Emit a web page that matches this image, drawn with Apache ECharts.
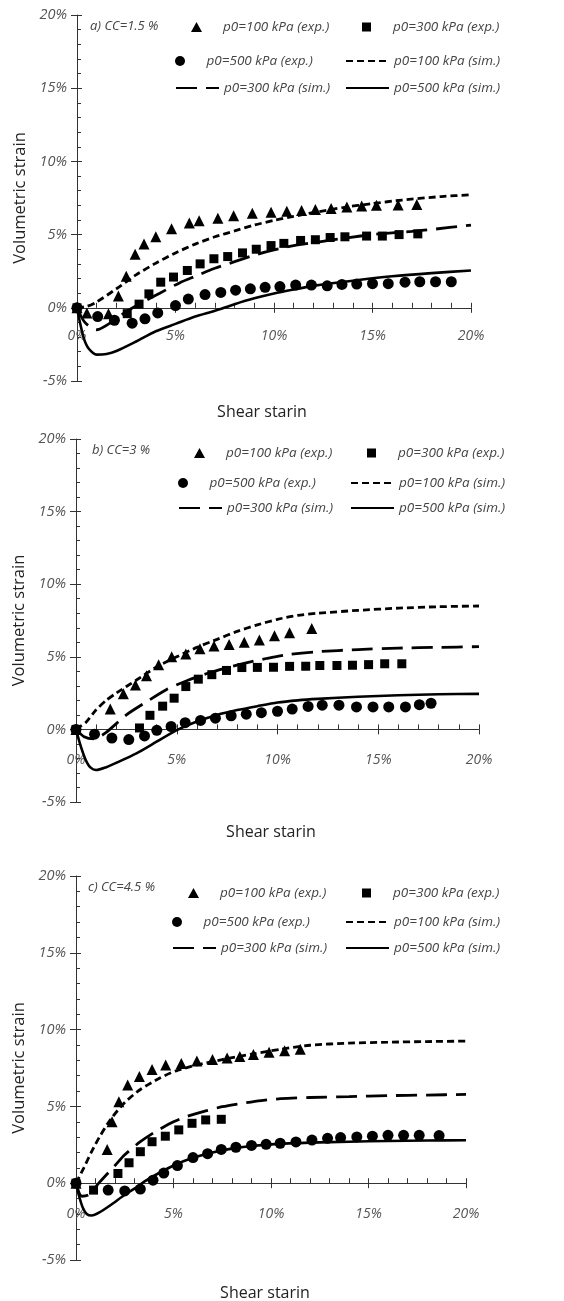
<!DOCTYPE html>
<html><head><meta charset="utf-8">
<script src="https://cdn.jsdelivr.net/npm/echarts@6/dist/echarts.min.js"></script>
<style>html,body{margin:0;padding:0;background:#fff}#c{width:564px;height:1301px}</style>
</head><body><div id="c"></div>
<script>
// ---- series names, labels, ticks ----
const seriesNames = ['p0=100 kPa (exp.)','p0=300 kPa (exp.)','p0=500 kPa (exp.)','p0=100 kPa (sim.)','p0=300 kPa (sim.)','p0=500 kPa (sim.)'];
const panelLabels = ['a) CC=1.5 %','b) CC=3 %','c) CC=4.5 %'];
const xTitle = 'Shear starin';
const yTitle = 'Volumetric strain';
const xMin = 0, xMax = 20, xStep = 5;
const yMin = -5, yMax = 20, yStep = 5;

// ---- panel a) CC=1.5 % : [shear strain %, volumetric strain %] ----
const a_exp100 = [[0,0],[0.5,-0.35],[1.6,-0.4],[2.1,0.8],[2.5,2.15],[2.95,3.65],[3.4,4.35],[4.0,4.85],[4.8,5.4],[5.7,5.8],[6.2,5.95],[7.15,6.12],[7.95,6.28],[8.9,6.45],[9.85,6.52],[10.65,6.6],[11.4,6.65],[12.1,6.72],[12.9,6.79],[13.7,6.88],[14.45,6.95],[15.2,7.0],[16.3,7.02],[17.25,7.05]];
const a_exp300 = [[0,0],[2.55,-0.4],[3.15,0.25],[3.65,0.95],[4.25,1.75],[4.9,2.1],[5.6,2.55],[6.25,3.0],[6.95,3.35],[7.65,3.5],[8.4,3.75],[9.1,4.0],[9.85,4.25],[10.5,4.4],[11.35,4.6],[12.1,4.65],[12.85,4.8],[13.6,4.85],[14.7,4.9],[15.5,4.9],[16.35,5.0],[17.3,5.05]];
const a_exp500 = [[0,0],[1.05,-0.6],[1.9,-0.85],[2.8,-1.05],[3.45,-0.75],[4.1,-0.35],[5.0,0.15],[5.65,0.6],[6.5,0.9],[7.3,1.05],[8.05,1.2],[8.8,1.3],[9.55,1.4],[10.3,1.45],[11.1,1.55],[11.9,1.55],[12.7,1.5],[13.45,1.6],[14.2,1.62],[15.0,1.65],[15.8,1.65],[16.65,1.75],[17.4,1.78],[18.2,1.78],[19.0,1.78]];
const a_sim100 = [[0,0],[0.5,0.1],[1,0.4],[2,1.3],[3,2.25],[4,3.05],[5,3.75],[6,4.35],[7,4.85],[8,5.25],[9,5.65],[10,5.97],[11,6.25],[12,6.5],[13.5,6.85],[15,7.12],[16.5,7.36],[18.5,7.6],[20,7.72]];
const a_sim300 = [[0,0],[0.4,-1.0],[1.0,-1.5],[1.9,-0.85],[2.5,-0.25],[3.5,0.5],[4.2,1.0],[5.2,1.7],[6.0,2.15],[7.0,2.7],[8.0,3.15],[9.0,3.6],[10.0,3.95],[11.0,4.25],[12.3,4.5],[13.8,4.8],[15,5.0],[16,5.12],[17,5.22],[18,5.35],[20,5.65]];
const a_sim500 = [[0,0],[0.15,-1.0],[0.35,-2.1],[0.6,-2.8],[1.0,-3.2],[1.5,-3.15],[2.0,-2.95],[3,-2.3],[4,-1.6],[5,-1.1],[6,-0.6],[7,-0.2],[8,0.25],[9,0.65],[10,0.98],[11,1.25],[12,1.5],[14,1.85],[16,2.15],[18,2.37],[20,2.55]];

// ---- panel b) CC=3 % ----
const b_exp100 = [[0,0],[1.7,1.4],[2.35,2.45],[2.95,3.05],[3.5,3.7],[4.1,4.45],[4.75,5.0],[5.45,5.2],[6.15,5.55],[6.85,5.75],[7.6,5.85],[8.35,6.0],[9.1,6.15],[9.85,6.45],[10.6,6.65],[11.7,6.95]];
const b_exp300 = [[0,0],[3.15,0.1],[3.67,0.97],[4.3,1.6],[4.87,2.15],[5.45,2.95],[6.07,3.46],[6.74,3.77],[7.47,4.06],[8.23,4.26],[9.0,4.27],[9.8,4.28],[10.6,4.34],[11.4,4.35],[12.1,4.4],[12.95,4.4],[13.72,4.42],[14.52,4.46],[15.32,4.52],[16.17,4.52]];
const b_exp500 = [[0,0],[0.92,-0.33],[1.78,-0.6],[2.62,-0.7],[3.4,-0.45],[4.01,-0.06],[4.72,0.2],[5.42,0.46],[6.18,0.62],[6.92,0.77],[7.7,0.94],[8.45,1.05],[9.2,1.15],[10.0,1.25],[10.73,1.4],[11.52,1.58],[12.22,1.67],[13.05,1.67],[13.92,1.55],[14.74,1.55],[15.52,1.55],[16.35,1.55],[17.04,1.7],[17.62,1.8]];
const b_sim100 = [[0,0],[0.5,0.5],[1,1.35],[1.5,2.0],[2,2.5],[3,3.4],[4,4.3],[5,5.0],[6,5.65],[7,6.2],[8,6.75],[9,7.2],[10,7.58],[11,7.85],[12,8.0],[14,8.2],[16,8.35],[18,8.45],[20,8.5]];
const b_sim300 = [[0,0],[0.4,-0.5],[0.9,-0.65],[1.5,-0.2],[2.5,1.0],[3.5,1.9],[4.5,2.75],[5.5,3.35],[6.5,3.85],[7.5,4.25],[8.5,4.6],[9.5,4.9],[10.5,5.15],[12,5.35],[14,5.5],[16,5.6],[18,5.65],[20,5.7]];
const b_sim500 = [[0,0],[0.2,-1.0],[0.45,-2.0],[0.7,-2.6],[1.0,-2.8],[1.5,-2.6],[2,-2.3],[3,-1.65],[4,-0.85],[5,-0.05],[6,0.55],[7,1.0],[8,1.33],[9,1.6],[10,1.85],[11,2.0],[12,2.1],[14,2.25],[16,2.35],[18,2.42],[20,2.45]];

// ---- panel c) CC=4.5 % ----
const c_exp100 = [[0,0],[1.6,2.2],[1.85,4.0],[2.2,5.3],[2.65,6.4],[3.25,6.95],[3.9,7.4],[4.6,7.7],[5.4,7.8],[6.2,7.95],[7.0,8.05],[7.75,8.15],[8.4,8.25],[9.1,8.38],[9.9,8.52],[10.7,8.62],[11.5,8.72]];
const c_exp300 = [[0,0],[0.9,-0.45],[2.15,0.63],[2.72,1.33],[3.3,2.05],[3.9,2.7],[4.58,3.06],[5.27,3.47],[5.95,3.9],[6.65,4.12],[7.45,4.16]];
const c_exp500 = [[0,0],[1.65,-0.45],[2.5,-0.5],[3.3,-0.38],[3.95,0.2],[4.5,0.66],[5.2,1.15],[6.0,1.67],[6.75,1.92],[7.45,2.2],[8.2,2.34],[9.0,2.46],[9.75,2.53],[10.47,2.6],[11.28,2.69],[12.1,2.81],[12.9,2.92],[13.57,2.97],[14.4,3.01],[15.2,3.06],[16.0,3.12],[16.8,3.12],[17.6,3.12],[18.62,3.1]];
const c_sim100 = [[0,0],[0.4,1.0],[0.8,2.05],[1.2,3.0],[1.8,4.2],[2.5,5.25],[3.3,6.1],[4.3,6.85],[5.1,7.3],[6.2,7.7],[7.5,8.05],[9.0,8.4],[10.5,8.72],[12,8.98],[14,9.12],[16,9.18],[18,9.22],[20,9.25]];
const c_sim300 = [[0,0],[0.3,-0.85],[0.65,-0.75],[1.2,0.05],[2.0,1.15],[2.5,1.85],[3.3,2.7],[4.0,3.3],[5.0,4.0],[5.7,4.35],[6.7,4.72],[7.5,4.98],[8.5,5.2],[9.5,5.38],[10.5,5.5],[12,5.58],[14,5.64],[16,5.7],[18,5.74],[20,5.78]];
const c_sim500 = [[0,0],[0.15,-0.8],[0.35,-1.6],[0.55,-2.0],[0.8,-2.1],[1.2,-1.9],[1.8,-1.4],[2.5,-0.75],[3.0,-0.35],[3.5,0.1],[4.1,0.55],[5.0,1.15],[6.0,1.65],[7.0,2.0],[8.0,2.25],[9.0,2.42],[10,2.53],[12,2.64],[14,2.7],[16,2.75],[18,2.78],[20,2.8]];

const panelData = [
  [a_exp100,a_exp300,a_exp500,a_sim100,a_sim300,a_sim500],
  [b_exp100,b_exp300,b_exp500,b_sim100,b_sim300,b_sim500],
  [c_exp100,c_exp300,c_exp500,c_sim100,c_sim300,c_sim500]
];

// ---- layout (pixels) ----
const layout = [
  {left:77, top:15,  width:394, height:366, xLabMargin:21, xTitle:[262,404], label:[90,20],  rows:[20,54,81],   cols:[175,345]},
  {left:76, top:439, width:403, height:363, xLabMargin:24, xTitle:[271,824], label:[92,444], rows:[446,476,501], cols:[178,350]},
  {left:76, top:876, width:390, height:384, xLabMargin:24, xTitle:[265,1285],label:[88,881], rows:[886,915,941], cols:[172,345]}
];

// legend icons for the marker series: symbol centred in a 43x10 box
// (tiny corner sub-paths fix the box so the symbol is not stretched)
const boxCorners = 'M0,0L0.01,0L0.01,0.01Z M43,10L42.99,10L42.99,9.99Z ';
const legendIcons = [
  'path://' + boxCorners + 'M16,10L21.5,0L27,10Z',
  'path://' + boxCorners + 'M17,0.5L26,0.5L26,9.5L17,9.5Z',
  'circle'
];

const tickFont = 'Open Sans';
const styles = [
  {type:'scatter', symbol:'triangle', symbolSize:11},
  {type:'scatter', symbol:'rect', symbolSize:9},
  {type:'scatter', symbol:'circle', symbolSize:11},
  {type:'line', dash:[7,4], width:2.8},
  {type:'line', dash:[21,9], width:2.8},
  {type:'line', dash:'solid', width:2.6}
];

const grid = [], xAxis = [], yAxis = [], series = [], legend = [], title = [];
layout.forEach((L, p) => {
  grid.push({left:L.left, top:L.top, width:L.width, height:L.height, containLabel:false});
  const yi = 2*p, xi = 2*p;
  // x axis drawn along the 0% line: shift the bottom axis up by the -5%..0% span
  const zeroOffset = -L.height * (0 - yMin) / (yMax - yMin);
  xAxis.push({type:'value', gridIndex:p, min:xMin, max:xMax, interval:xStep, position:'bottom', offset:zeroOffset,
    axisLine:{show:true, onZero:false, lineStyle:{color:'#333', width:1}},
    axisTick:{show:true, inside:true, length:5, lineStyle:{color:'#333'}},
    minorTick:{show:true, splitNumber:5, length:5, lineStyle:{color:'#333'}},
    axisLabel:{show:true, margin:L.xLabMargin, formatter:'{value}%', fontStyle:'italic', fontFamily:tickFont, fontSize:14, color:'#555'},
    splitLine:{show:false}});
  // overlay x axis: outward major ticks
  xAxis.push({type:'value', gridIndex:p, min:xMin, max:xMax, interval:xStep, position:'bottom', offset:zeroOffset,
    axisLine:{show:false, onZero:false},
    axisTick:{show:true, inside:false, length:5, lineStyle:{color:'#333'}},
    axisLabel:{show:false}, splitLine:{show:false}});
  // primary y axis
  yAxis.push({type:'value', gridIndex:p, min:yMin, max:yMax, interval:yStep, position:'left',
    axisLine:{show:true, onZero:false, lineStyle:{color:'#333', width:1}},
    axisTick:{show:true, inside:true, length:5, lineStyle:{color:'#333'}},
    minorTick:{show:true, splitNumber:5, length:4, lineStyle:{color:'#333'}},
    axisLabel:{show:true, margin:10, formatter:'{value}%', fontStyle:'italic', fontFamily:tickFont, fontSize:14.5, color:'#555'},
    splitLine:{show:false},
    name:yTitle, nameLocation:'middle', nameGap:46, nameRotate:90,
    nameTextStyle:{fontFamily:'Open Sans', fontSize:16.5, color:'#222'}});
  // overlay y axis: outward major ticks
  yAxis.push({type:'value', gridIndex:p, min:yMin, max:yMax, interval:yStep, position:'left',
    axisLine:{show:false, onZero:false},
    axisTick:{show:true, inside:false, length:6, lineStyle:{color:'#333'}},
    axisLabel:{show:false}, splitLine:{show:false}});

  panelData[p].forEach((d, k) => {
    const st = styles[k];
    const s = {name:seriesNames[k], type:st.type, xAxisIndex:xi, yAxisIndex:yi, data:d, animation:false};
    if (st.type === 'scatter') {
      Object.assign(s, {symbol:st.symbol, symbolSize:st.symbolSize, itemStyle:{color:'#000', opacity:1}, z:2});
    } else {
      Object.assign(s, {showSymbol:false, symbol:'none', smooth:0.25, itemStyle:{color:'#000'},
        lineStyle:{color:'#000', width:st.width, type:st.dash}, z:3});
    }
    series.push(s);
  });

  // legend: one component per item, two columns by three rows
  seriesNames.forEach((nm, k) => {
    const row = Math.floor(k/2), col = k % 2;
    const isLine = styles[k].type === 'line';
    const item = isLine ? {name:nm, itemStyle:{opacity:0}} : {name:nm, icon:legendIcons[k]};
    legend.push({data:[item],
      left:L.cols[col], top:L.rows[row], padding:0, itemGap:0,
      itemWidth:43, itemHeight:10, selectedMode:false,
      textStyle:{fontStyle:'italic', fontFamily:tickFont, fontSize:13.5, color:'#444'}});
  });

  title.push({text:panelLabels[p], left:L.label[0], top:L.label[1], padding:0,
    textStyle:{fontStyle:'italic', fontWeight:'normal', fontFamily:tickFont, fontSize:13, color:'#444'}});
  title.push({text:xTitle, left:L.xTitle[0], top:L.xTitle[1], textAlign:'center', padding:0,
    textStyle:{fontWeight:'normal', fontFamily:'Open Sans', fontSize:16, color:'#222'}});
});

const chart = echarts.init(document.getElementById('c'), null, {renderer:'canvas'});
chart.setOption({backgroundColor:'#fff', animation:false, grid, xAxis, yAxis, series, legend, title});
</script>
</body></html>
